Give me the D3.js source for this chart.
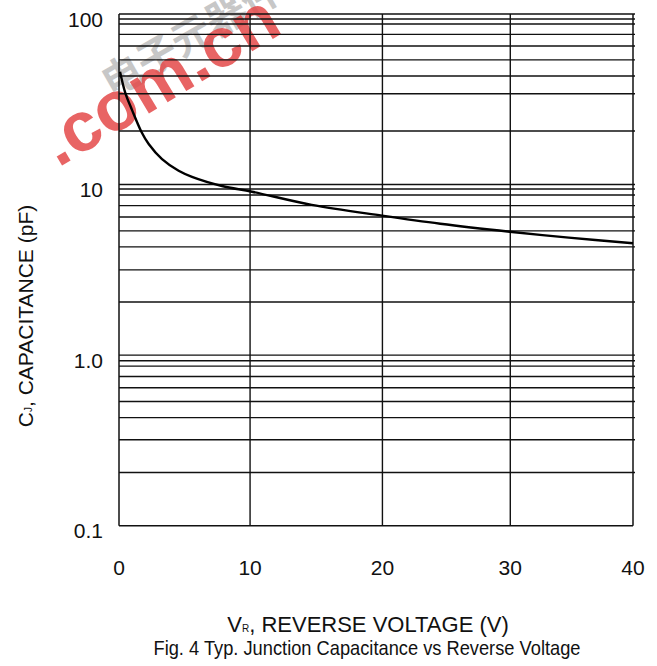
<!DOCTYPE html>
<html><head><meta charset="utf-8">
<script src="https://cdn.jsdelivr.net/npm/d3@7"></script>
<style>html,body{margin:0;padding:0;background:#fff;} svg{display:block;font-family:"Liberation Sans",Arial,sans-serif;}</style>
</head><body><svg id="c" width="657" height="666"></svg>
<script>
// ---- data ----
const xTickLabels = [0, 10, 20, 30, 40];
const xGridValues = [10.2, 20.5, 30.45];           // vertical grid lines as drawn (labelled 10, 20, 30)
const yTickValues = [100, 10, 1, 0.1];
const yTickLabels = ["100", "10", "1.0", "0.1"];
const yDecadeValues = [100, 10, 1];
const yMinorGridValues = [93.5, 87.4, 76.0, 64.9, 53.8, 43.3, 34.1, 20.6,
                          9.42, 8.69, 7.53, 6.46, 5.35, 4.31, 3.16, 2.05,
                          0.927, 0.862, 0.750, 0.644, 0.535, 0.430, 0.319, 0.205];
const voltage     = [0.08, 0.49, 1.01, 1.74, 2.31, 3.35, 4.64, 5.68, 8.02, 10.35, 15, 20.47, 25, 30.4, 35, 40];
const capacitance = [45.9, 34.5, 27.4, 20.4, 17.3, 14.1, 12.05, 11.1, 9.81, 9.08, 7.6, 6.57, 5.89, 5.29, 4.885, 4.53];
const xTitleMain = "V", xTitleSub = "R", xTitleRest = ", REVERSE VOLTAGE (V)";
const yTitleMain = "C", yTitleSub = "J", yTitleRest = ", CAPACITANCE (pF)";
const caption = "Fig. 4 Typ. Junction Capacitance vs Reverse Voltage";
const watermarkRed = ".com.cn";
const watermarkGrey = "电子元器件";

const svg = d3.select("#c");
svg.append("rect").attr("width", 657).attr("height", 666).attr("fill", "#fff");

const x = d3.scaleLinear().domain([0, 40]).range([119, 633]);
const y = d3.scaleLog().domain([0.1, 100]).range([525.7, 14]);

// watermark
svg.append("text").text(watermarkGrey)
  .attr("transform", "translate(112,98) rotate(-30)")
  .attr("font-family", "Noto Sans CJK SC").attr("font-weight", "bold")
  .attr("font-size", 40).attr("fill", "#b0b0b0").attr("opacity", 0.7);
svg.append("text").text(watermarkRed)
  .attr("transform", "translate(58,168) rotate(-31)")
  .attr("font-weight", "bold").attr("font-size", 70)
  .attr("fill", "#e44a4a").attr("opacity", 0.85);

// grid
const g = svg.append("g");
g.selectAll("line.hminor").data(yMinorGridValues).join("line")
  .attr("x1", x(0)).attr("x2", x(40) + 2)
  .attr("y1", d => y(d)).attr("y2", d => y(d))
  .attr("stroke", "#111").attr("stroke-width", 1.4);
g.selectAll("line.hdec").data(yDecadeValues).join("line")
  .attr("x1", x(0)).attr("x2", x(40) + 2)
  .attr("y1", d => y(d)).attr("y2", d => y(d))
  .attr("stroke", "#111").attr("stroke-width", 1.4);
g.selectAll("line.v").data(xGridValues).join("line")
  .attr("x1", d => x(d)).attr("x2", d => x(d))
  .attr("y1", y(100)).attr("y2", y(0.1))
  .attr("stroke", "#111").attr("stroke-width", 1.4);
// frame
g.append("line").attr("x1", x(0)).attr("x2", x(0)).attr("y1", y(100)).attr("y2", y(0.1)).attr("stroke", "#111").attr("stroke-width", 1.5);
g.append("line").attr("x1", x(40)).attr("x2", x(40)).attr("y1", y(100)).attr("y2", y(0.1)).attr("stroke", "#111").attr("stroke-width", 1.5);
g.append("line").attr("x1", x(0)).attr("x2", x(40)).attr("y1", y(0.1)).attr("y2", y(0.1)).attr("stroke", "#111").attr("stroke-width", 1.5);

// curve
const pts = voltage.map((v, i) => [v, capacitance[i]]);
svg.append("path").datum(pts)
  .attr("d", d3.line().x(d => x(d[0])).y(d => y(d[1])).curve(d3.curveCatmullRom.alpha(0.5)))
  .attr("fill", "none").attr("stroke", "#000").attr("stroke-width", 2.4);

// tick labels (10/20/30 sit on their drawn grid lines)
const xLabelPos = [0, ...xGridValues, 40];
svg.selectAll("text.xt").data(xTickLabels).join("text")
  .attr("x", (d, i) => x(xLabelPos[i])).attr("y", 575).attr("text-anchor", "middle")
  .attr("font-size", 21).attr("fill", "#111").text(d => d);
svg.selectAll("text.yt").data(yTickValues).join("text")
  .attr("x", 103).attr("y", d => y(d) + 12.5).attr("text-anchor", "end")
  .attr("font-size", 21).attr("fill", "#111").text((d, i) => yTickLabels[i]);

// axis titles
const xt = svg.append("text").attr("x", 368).attr("y", 632).attr("text-anchor", "middle")
  .attr("font-size", 22).attr("fill", "#111");
xt.append("tspan").text(xTitleMain);
xt.append("tspan").attr("font-size", 10).text(xTitleSub);
xt.append("tspan").text(xTitleRest);

const yt = svg.append("text").attr("transform", "translate(33,316) rotate(-90)")
  .attr("text-anchor", "middle").attr("font-size", 21).attr("fill", "#111");
yt.append("tspan").text(yTitleMain);
yt.append("tspan").attr("font-size", 10).attr("dy", -1).text(yTitleSub);
yt.append("tspan").attr("dy", 1).text(yTitleRest);

svg.append("text").attr("x", 367).attr("y", 655).attr("text-anchor", "middle")
  .attr("font-size", 21).attr("fill", "#111")
  .attr("textLength", 427).attr("lengthAdjust", "spacingAndGlyphs").text(caption);
</script></body></html>
